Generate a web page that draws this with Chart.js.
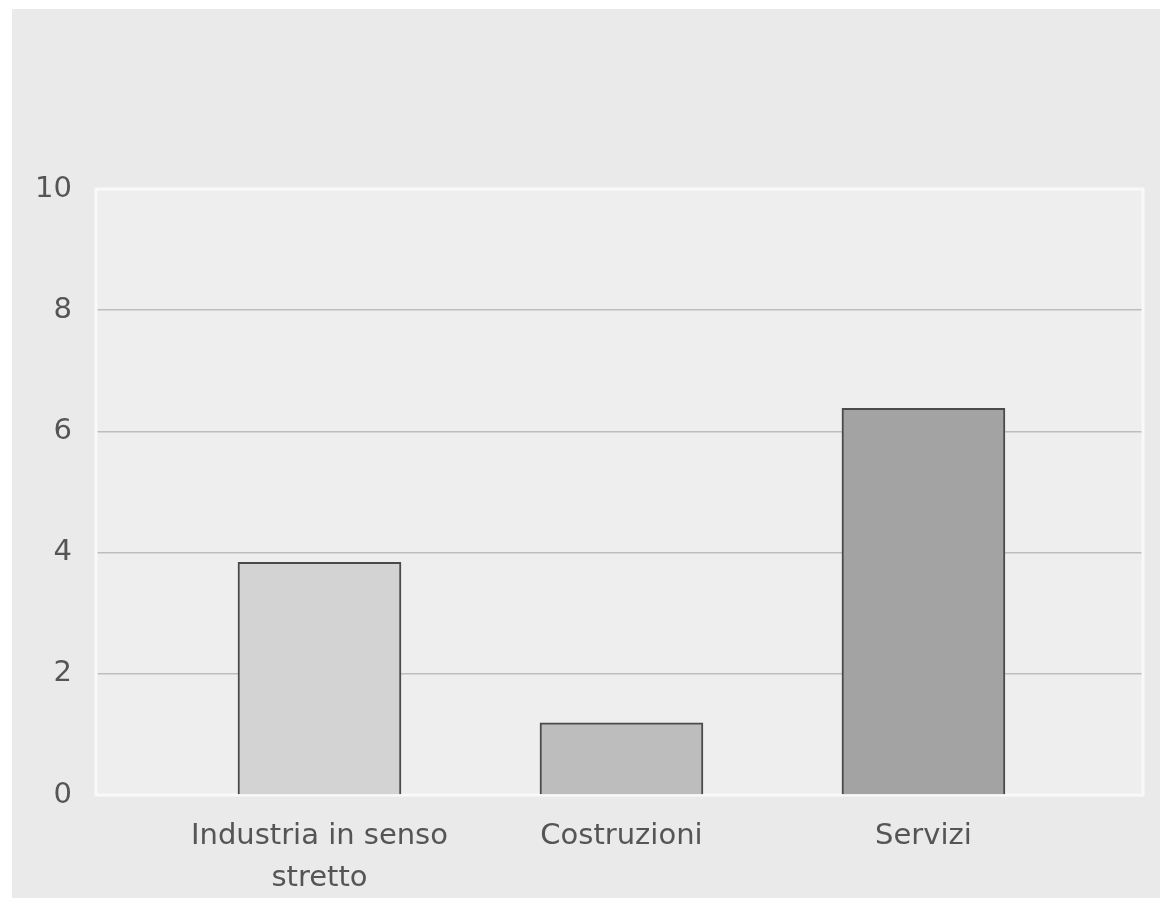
<!DOCTYPE html>
<html>
<head>
<meta charset="utf-8">
<script src="https://cdn.jsdelivr.net/npm/chart.js@4"></script>
<style>
  html, body { margin: 0; padding: 0; background: #ffffff; width: 1160px; height: 898px; overflow: hidden; }
  #wrap { position: absolute; left: 12px; top: 9px; width: 1148px; height: 889px; background: #eaeaea; }
  canvas { display: block; }
</style>
</head>
<body>
<div id="wrap"><canvas id="c" width="1148" height="889"></canvas></div>
<script>
const categories = [["Industria in senso", "stretto"], "Costruzioni", "Servizi"];
const values = [3.84, 1.19, 6.38];
const barColors = ["#d3d3d3", "#bdbdbd", "#a3a3a3"];
const yTicks = [0, 2, 4, 6, 8, 10];

const plotBg = {
  id: 'plotBg',
  beforeDraw(chart) {
    const { ctx, chartArea: a } = chart;
    ctx.save();
    ctx.fillStyle = '#eeeeee';
    ctx.fillRect(a.left, a.top, a.right - a.left, a.bottom - a.top);
    ctx.restore();
  },
  beforeDatasetsDraw(chart) {
    const { ctx, chartArea: a } = chart;
    ctx.save();
    ctx.strokeStyle = '#f9f9f9';
    ctx.lineWidth = 3;
    ctx.strokeRect(a.left, a.top, a.right - a.left, a.bottom - a.top);
    ctx.restore();
  }
};

new Chart(document.getElementById('c'), {
  type: 'bar',
  data: {
    datasets: [{
      data: values.map((v, i) => ({ x: i + 1, y: v })),
      backgroundColor: barColors,
      borderColor: '#4a4a4a',
      borderWidth: 2,
      barThickness: 163
    }]
  },
  plugins: [plotBg],
  options: {
    responsive: false,
    animation: false,
    layout: { padding: { top: 180, right: 17, left: 0, bottom: 0 } },
    plugins: { legend: { display: false }, tooltip: { enabled: false } },
    scales: {
      x: {
        type: 'linear',
        min: 0.26,
        max: 3.727,
        offset: false,
        grid: { display: false, drawTicks: false, offset: false },
        border: { display: false },
        afterBuildTicks(scale) { scale.ticks = categories.map((c, i) => ({ value: i + 1 })); },
        afterFit(scale) { scale.height = 103; },
        ticks: {
          autoSkip: false,
          maxRotation: 0,
          padding: 20,
          color: '#555555',
          font: { family: 'DejaVu Sans', size: 29, lineHeight: 1.45 },
          callback: (v) => categories[Math.round(v) - 1]
        }
      },
      y: {
        min: 0,
        max: 10,
        afterBuildTicks(scale) { scale.ticks = yTicks.map(v => ({ value: v })); },
        afterFit(scale) { scale.width = 84; },
        grid: { color: '#bdbdbd', lineWidth: 1.6, drawTicks: false },
        border: { display: false },
        ticks: {
          padding: 24,
          color: '#555555',
          font: { family: 'DejaVu Sans', size: 29 }
        }
      }
    }
  }
});
</script>
</body>
</html>
